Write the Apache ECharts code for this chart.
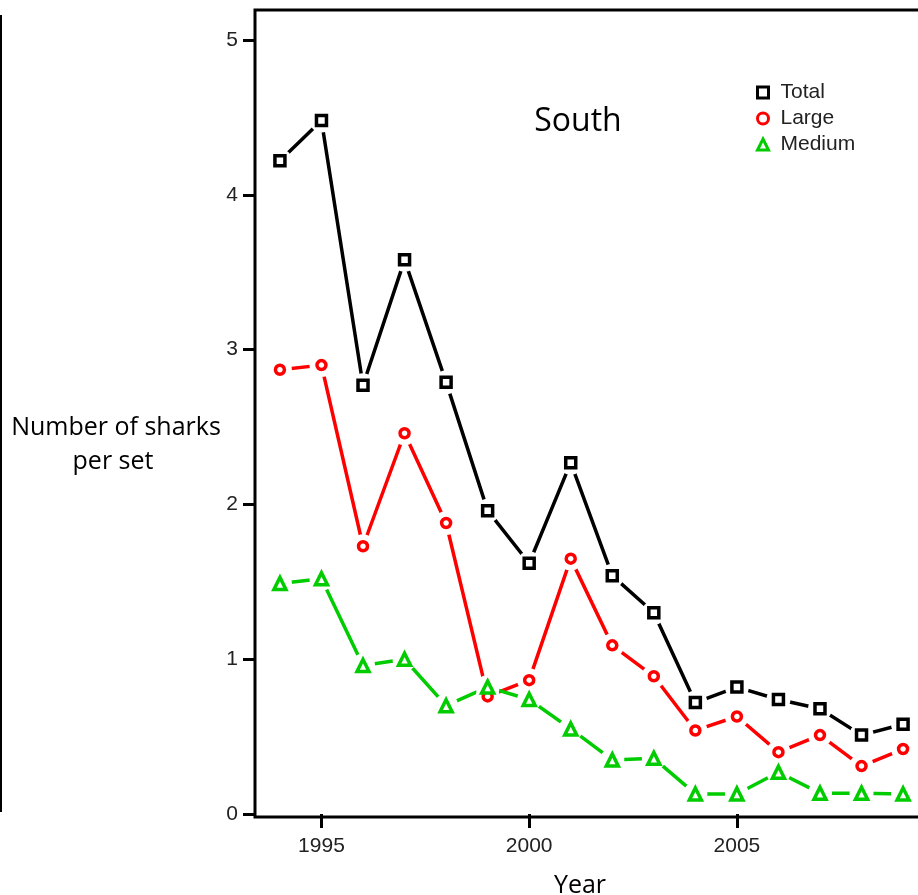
<html>
<head>
<meta charset="utf-8">
<script src="https://cdn.jsdelivr.net/npm/echarts@6/dist/echarts.min.js"></script>
<style>
  body { margin: 0; padding: 0; background: #fff; }
  #main { width: 918px; height: 895px; }
</style>
</head>
<body>
<div id="main"></div>
<script type="text/javascript">
// data
var years = [1994, 1995, 1996, 1997, 1998, 1999, 2000, 2001, 2002, 2003, 2004, 2005, 2006, 2007, 2008, 2009];
var totalValues  = [4.22, 4.48, 2.77, 3.58, 2.79, 1.96, 1.62, 2.27, 1.54, 1.30, 0.72, 0.82, 0.74, 0.68, 0.51, 0.58];
var largeValues  = [2.87, 2.90, 1.73, 2.46, 1.88, 0.76, 0.865, 1.65, 1.09, 0.89, 0.54, 0.63, 0.40, 0.51, 0.31, 0.42];
var mediumValues = [1.49, 1.52, 0.96, 1.00, 0.70, 0.82, 0.74, 0.55, 0.35, 0.36, 0.13, 0.13, 0.27, 0.135, 0.135, 0.13];
var yTicks = [0, 1, 2, 3, 4, 5];
var xTicks = [1995, 2000, 2005];

var groups = [
  { name: 'Total',  values: totalValues,  color: '#000000', symbol: 'rect',     size: 10 },
  { name: 'Large',  values: largeValues,  color: '#ff0000', symbol: 'circle',   size: 9 },
  { name: 'Medium', values: mediumValues, color: '#00cc00', symbol: 'triangle', size: 12 }
];

function pairs(vals) {
  return years.map(function (y, i) { return [y, vals[i]]; });
}

var series = [];
groups.forEach(function (g) {
  // line
  series.push({
    name: g.name + ' line', type: 'line', data: pairs(g.values),
    showSymbol: false, silent: true, z: 2,
    lineStyle: { color: g.color, width: 3.5 }
  });
  // white disks give the gaps around the points
  series.push({
    name: g.name + ' gap', type: 'scatter', data: pairs(g.values),
    symbol: 'circle', symbolSize: 24, silent: true, z: 3,
    itemStyle: { color: '#ffffff', opacity: 1 }
  });
  // markers
  series.push({
    name: g.name, type: 'scatter', data: pairs(g.values),
    symbol: g.symbol, symbolSize: g.size, z: 4,
    itemStyle: { color: '#ffffff', borderColor: g.color, borderWidth: 3.5, opacity: 1 }
  });
});

var myChart = echarts.init(document.getElementById('main'));
myChart.setOption({
  animation: false,
  grid: {
    left: 255, top: 10, width: 673, height: 807,
    outerBoundsMode: 'none', containLabel: false,
    show: true, borderColor: '#000', borderWidth: 3, backgroundColor: 'transparent'
  },
  legend: {
    orient: 'vertical', left: 751, top: 77,
    itemWidth: 11, itemHeight: 11, itemGap: 5,
    textStyle: { fontSize: 21, fontFamily: '"Liberation Sans", Arial', color: '#222', padding: [0, 0, 0, 7] },
    data: groups.map(function (g) {
      return {
        name: g.name, icon: g.symbol,
        itemStyle: { color: '#ffffff', borderColor: g.color, borderWidth: 3 }
      };
    })
  },
  xAxis: {
    type: 'value', min: 1993.4, max: 2009.6,
    axisLine: { show: false },
    axisTick: { show: true, length: 14, lineStyle: { color: '#000', width: 3 }, customValues: xTicks },
    axisLabel: { margin: 19, fontSize: 21, fontFamily: '"Liberation Sans", Arial', color: '#222',
      customValues: xTicks, formatter: function (v) { return String(v); } },
    splitLine: { show: false }
  },
  yAxis: {
    type: 'value', min: -0.019, max: 5.194,
    axisLine: { show: false },
    axisTick: { show: true, length: 12, lineStyle: { color: '#000', width: 3 }, customValues: yTicks },
    axisLabel: { margin: 17, fontSize: 21, fontFamily: '"Liberation Sans", Arial', color: '#222',
      customValues: yTicks, formatter: function (v) { return String(v); } },
    splitLine: { show: false }
  },
  graphic: [
    { type: 'line', shape: { x1: 1, y1: 15, x2: 1, y2: 812 }, style: { stroke: '#000', lineWidth: 2 } },
    { type: 'text', style: { text: 'South', x: 578, y: 122, textAlign: 'center', textVerticalAlign: 'middle',
        font: '32px "Open Sans"', fill: '#000' } },
    { type: 'text', style: { text: 'Number of sharks', x: 116, y: 428, textAlign: 'center', textVerticalAlign: 'middle',
        font: '25px "Open Sans"', fill: '#000' } },
    { type: 'text', style: { text: 'per set', x: 113, y: 462, textAlign: 'center', textVerticalAlign: 'middle',
        font: '25px "Open Sans"', fill: '#000' } },
    { type: 'text', style: { text: 'Year', x: 580, y: 886, textAlign: 'center', textVerticalAlign: 'middle',
        font: '25px "Open Sans"', fill: '#000' } }
  ],
  series: series
});
</script>
</body>
</html>
